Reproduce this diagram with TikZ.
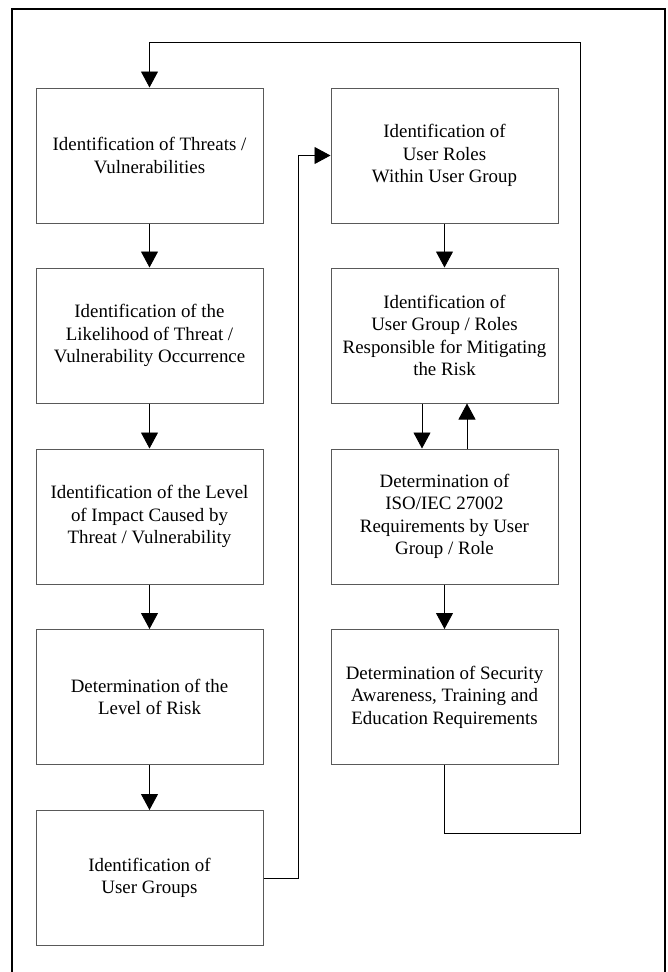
\documentclass[tikz,border=0pt]{standalone}
\usepackage{fontspec}
\setmainfont{Liberation Serif}
\usetikzlibrary{arrows.meta}
\begin{document}
\begin{tikzpicture}[x=1pt,y=-1pt,
  stepbox/.style={draw=black!65,line width=1pt,minimum width=227pt,minimum height=135pt,
    inner sep=0pt,align=center,font=\fontsize{18.9}{22.5}\selectfont},
  arr/.style={draw=black,line width=0.9pt,-{Triangle[length=16pt,width=17pt]}},
  conn/.style={draw=black,line width=0.9pt}]
\useasboundingbox (0,0) rectangle (668,972);
\begin{scope}
\clip (0,0) rectangle (668,972);
\draw[line width=2pt] (12,9) rectangle (665,1000);
\end{scope}
\node[stepbox] (b1) at (149.5,155.5) {Identification of Threats /\\Vulnerabilities};
\node[stepbox] (b2) at (149.5,335.5) {Identification of the\\Likelihood of Threat /\\Vulnerability Occurrence};
\node[stepbox] (b3) at (149.5,516.5) {Identification of the Level\\of Impact Caused by\\Threat / Vulnerability};
\node[stepbox] (b4) at (149.5,697) {Determination of the\\Level of Risk};
\node[stepbox] (b5) at (149.5,878) {Identification of\\User Groups};
\node[stepbox] (r1) at (444.5,155.5) {Identification of\\User Roles\\Within User Group};
\node[stepbox] (r2) at (444.5,335.5) {Identification of\\User Group / Roles\\Responsible for Mitigating\\the Risk};
\node[stepbox] (r3) at (444.5,516.5) {Determination of\\ISO/IEC 27002\\Requirements by User\\Group / Role};
\node[stepbox] (r4) at (444.5,697) {Determination of Security\\Awareness, Training and\\Education Requirements};
\coordinate (c1) at (580,833);
\coordinate (c2) at (580,42);
\coordinate (c3) at (298,878);
\draw[arr] (b1) -- (b2);
\draw[arr] (b2) -- (b3);
\draw[arr] (b3) -- (b4);
\draw[arr] (b4) -- (b5);
\draw[arr] (b5.east) -- (c3) |- (r1.west);
\draw[arr] (r1) -- (r2);
\draw[arr] ([xshift=-22.5pt]r2.south) -- ([xshift=-22.5pt]r3.north);
\draw[arr] ([xshift=22.5pt]r3.north) -- ([xshift=22.5pt]r2.south);
\draw[arr] (r3) -- (r4);
\draw[arr] (r4.south) |- (c1) -- (c2) -| (b1.north);
\end{tikzpicture}
\end{document}
